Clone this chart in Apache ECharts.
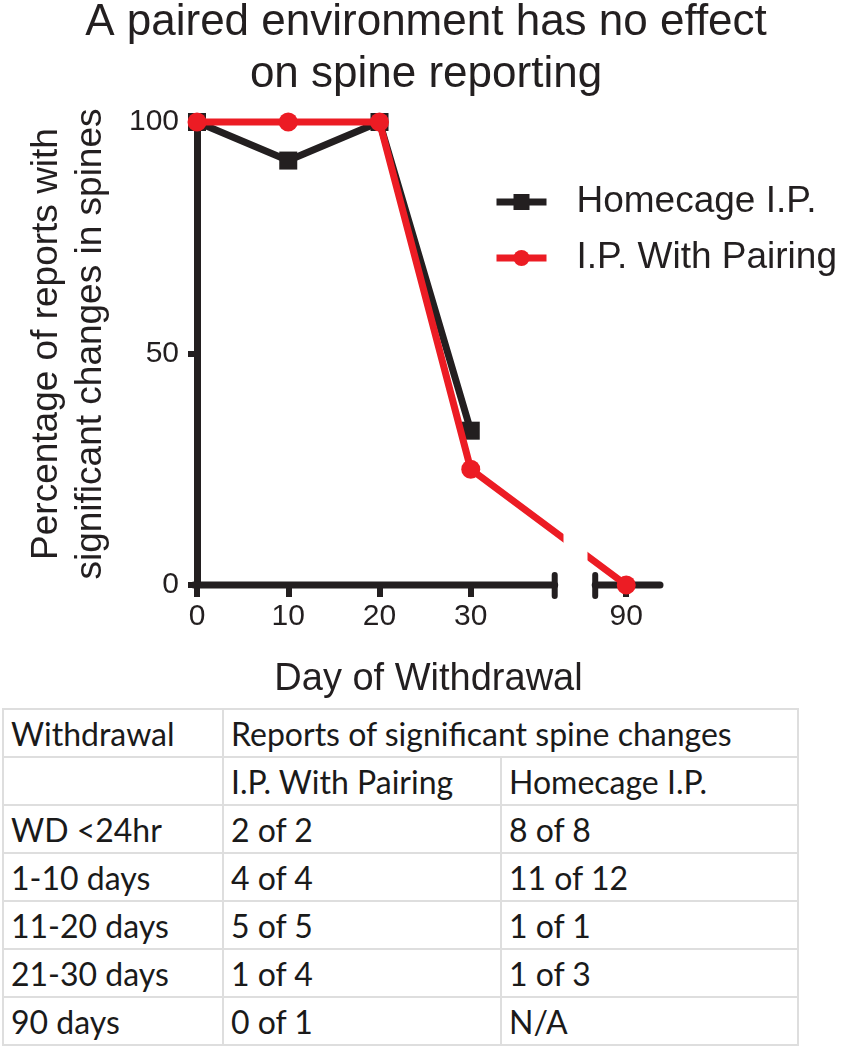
<!DOCTYPE html>
<html><head><meta charset="utf-8">
<script src="https://cdn.jsdelivr.net/npm/echarts@6/dist/echarts.min.js"></script>
<style>
html,body{margin:0;padding:0;background:#fff;}
#chart{position:absolute;left:0;top:0;width:852px;height:705px;}
#tbl{position:absolute;left:2px;top:708px;border-collapse:collapse;table-layout:fixed;font-family:Lato,sans-serif;font-size:32px;color:#1a1a1a;}
#tbl td{border:2px solid #dedede;height:46px;padding:0 0 0 7px;white-space:nowrap;overflow:visible;}
</style></head><body>
<div id="chart"></div>
<table id="tbl"><colgroup><col style="width:220px"><col style="width:278px"><col style="width:297px"></colgroup><tbody id="tb"></tbody></table>
<script>
const title = 'A paired environment has no effect\non spine reporting';
const days = [0, 10, 20, 30, 90];
const homecage = [100, 91.67, 100, 33.33, null];
const pairing = [100, 100, 100, 25, 0];
const yTicks = [0, 50, 100];
const xTickLabels = [0, 10, 20, 30, 90];
const xBreak = [40.1, 85.7];
const xAxisSegments = [[0, 39.2], [86.6, 93.7]];
const tableHeader = ['Withdrawal', 'Reports of significant spine changes'];
const tableSub = ['', 'I.P. With Pairing', 'Homecage I.P.'];
const tableRows = [
  ['WD <24hr', '2 of 2', '8 of 8'],
  ['1-10 days', '4 of 4', '11 of 12'],
  ['11-20 days', '5 of 5', '1 of 1'],
  ['21-30 days', '1 of 4', '1 of 3'],
  ['90 days', '0 of 1', 'N/A']
];

const FONT = 'Liberation Sans';
const INK = '#231f20';
const RED = '#ec1c24';
const chart = echarts.init(document.getElementById('chart'));
const pairs = (vals) => days.map((d, i) => vals[i] == null ? null : [d, vals[i]]).filter(Boolean);

chart.setOption({
  animation: false,
  title: {text: title, left: 'center', top: -8, textStyle: {fontFamily: FONT, fontSize: 44, fontWeight: 'normal', color: INK, lineHeight: 52}},
  grid: {left: 197, top: 122, width: 463, height: 463},
  legend: {
    orient: 'vertical', left: 488, top: 177, itemWidth: 50, itemHeight: 20, itemGap: 16, z: 300,
    lineStyle: {width: 7},
    formatter: name => '{g|}{n|' + name + '}',
    textStyle: {fontFamily: FONT, fontSize: 37, color: INK, lineHeight: 40,
      rich: {g: {width: 25}, n: {fontFamily: FONT, fontSize: 37, color: INK, lineHeight: 40}}},
    data: ['Homecage I.P.', 'I.P. With Pairing']
  },
  xAxis: {
    type: 'value', min: 0, max: xAxisSegments[1][1], interval: 10,
    breaks: [{start: xBreak[0], end: xBreak[1], gap: '5.2%'}],
    breakArea: {show: true, itemStyle: {color: '#fff', borderWidth: 0, opacity: 1}, zigzagAmplitude: 0},
    axisLine: {show: false},
    axisTick: {show: true, length: 12, customValues: xTickLabels, lineStyle: {color: INK, width: 6}},
    splitLine: {show: false},
    axisLabel: {fontFamily: FONT, fontSize: 30, color: INK, margin: 17, customValues: xTickLabels},
    name: 'Day of Withdrawal', nameLocation: 'middle', nameGap: 76,
    nameTextStyle: {fontFamily: FONT, fontSize: 38, color: INK}
  },
  yAxis: {
    type: 'value', min: 0, max: 100, interval: 50,
    axisLine: {show: true, lineStyle: {color: INK, width: 7}},
    axisTick: {show: true, length: 9, customValues: yTicks, lineStyle: {color: INK, width: 6}},
    splitLine: {show: false},
    axisLabel: {fontFamily: FONT, fontSize: 30, color: INK, margin: 18, customValues: yTicks}
  },
  graphic: [{
    type: 'text', x: 69, y: 344, rotation: Math.PI / 2,
    style: {text: 'Percentage of reports with\nsignificant changes in spines', font: '37px "Liberation Sans"', fill: INK,
      textAlign: 'center', textVerticalAlign: 'middle', lineHeight: 44}
  }],
  series: [
    {
      type: 'custom', name: 'axis', silent: true, clip: false, z: 1, legendHoverLink: false,
      data: xAxisSegments,
      renderItem: (params, api) => {
        const a = api.coord([api.value(0), 0]);
        const b = api.coord([api.value(1), 0]);
        const children = [{type: 'line', shape: {x1: a[0] - (params.dataIndex === 0 ? 3 : 0), y1: a[1], x2: b[0], y2: b[1]}, style: {stroke: INK, lineWidth: 7, lineCap: 'round'}}];
        const capX = params.dataIndex === 0 ? b[0] : a[0];
        children.push({type: 'line', shape: {x1: capX, y1: a[1] - 10, x2: capX, y2: a[1] + 11}, style: {stroke: INK, lineWidth: 6, lineCap: 'round'}});
        return {type: 'group', children};
      }
    },
    {
      type: 'line', name: 'Homecage I.P.', data: pairs(homecage), clip: false, z: 3,
      symbol: 'rect', symbolSize: 18, lineStyle: {color: INK, width: 7}, itemStyle: {color: INK}
    },
    {
      type: 'line', name: 'I.P. With Pairing', data: pairs(pairing), clip: false, z: 4,
      symbol: 'circle', symbolSize: 19, lineStyle: {color: RED, width: 7}, itemStyle: {color: RED}
    }
  ]
});

const esc = s => s.replace(/&/g, '&amp;').replace(/</g, '&lt;');
let html = '<tr><td>' + esc(tableHeader[0]) + '</td><td colspan="2">' + esc(tableHeader[1]) + '</td></tr>';
html += '<tr>' + tableSub.map(c => '<td>' + esc(c) + '</td>').join('') + '</tr>';
tableRows.forEach(r => { html += '<tr>' + r.map(c => '<td>' + esc(c) + '</td>').join('') + '</tr>'; });
document.getElementById('tb').innerHTML = html;
</script>
</body></html>
